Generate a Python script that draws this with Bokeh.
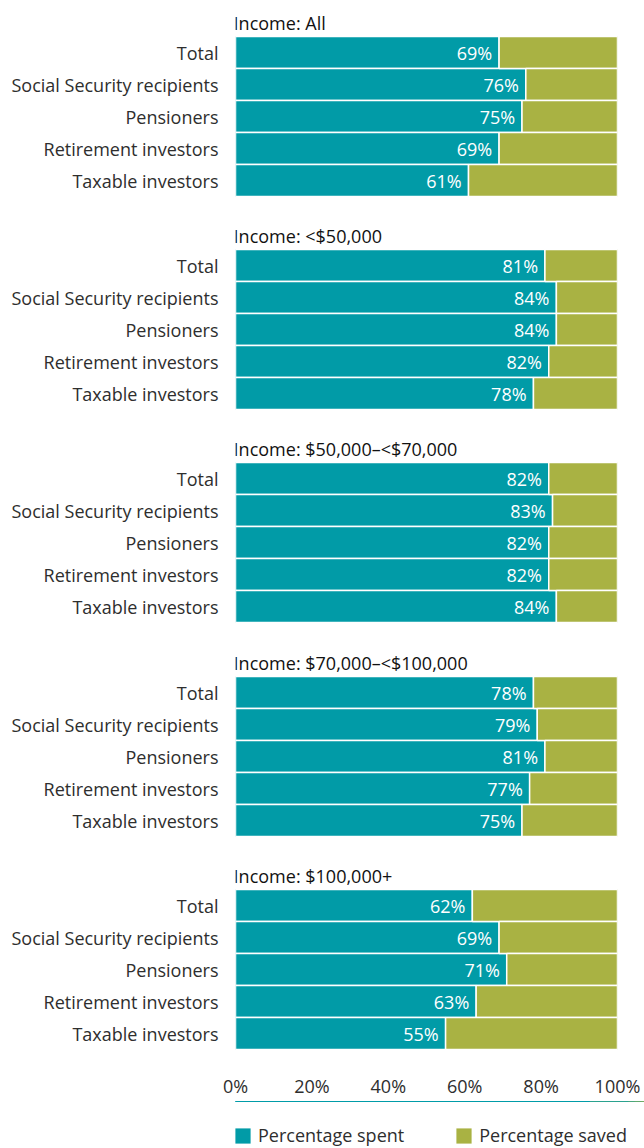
from bokeh.plotting import figure
from bokeh.layouts import column
from bokeh.models import Range1d, FixedTicker, Legend, LegendItem, ColumnDataSource
from bokeh.core.properties import value
from bokeh.embed import file_html
from bokeh.resources import INLINE

groups = ["Income: All", "Income: <$50,000", "Income: $50,000\u2013<$70,000",
          "Income: $70,000\u2013<$100,000", "Income: $100,000+"]
categories = ["Total", "Social Security recipients", "Pensioners",
              "Retirement investors", "Taxable investors"]
spent = [
    [69, 76, 75, 69, 61],
    [81, 84, 84, 82, 78],
    [82, 83, 82, 82, 84],
    [78, 79, 81, 77, 75],
    [62, 69, 71, 63, 55],
]
x_ticks = [0, 20, 40, 60, 80, 100]
series_names = ["Percentage spent", "Percentage saved"]

TEAL = "#019ba7"
OLIVE = "#a9b243"
FONT = "Open Sans"
FS = "18px"
LABEL_COLOR = "#2e2e2e"

# layout in frame pixels (y axis inverted)
GROUP_PITCH = 213.25
FIRST = 44
ROW = 32
TITLE_OFF = 30
FRAME_H = 1053
BOTTOM = 40
LEG_H = 1148 - 8 - FRAME_H - BOTTOM

ys, xs_sp, xs_sv, labs, cats = [], [], [], [], []
title_y = []
for g, vals in enumerate(spent):
    base = FIRST + g * GROUP_PITCH
    title_y.append(round(base - TITLE_OFF))
    for r, v in enumerate(vals):
        y = int(round(base + r * ROW))
        ys.append(y)
        xs_sp.append(v)
        xs_sv.append(100 - v)
        labs.append(f"{v}%")
        cats.append(categories[r])

src = ColumnDataSource(dict(y=ys, spent=xs_sp, saved=xs_sv, lab=labs,
                            lx=[v - 1.8 for v in xs_sp]))
tsrc = ColumnDataSource(dict(y=title_y, t=groups, x=[-0.5] * len(groups)))

p = figure(frame_width=382, frame_height=FRAME_H, output_backend="svg",
           toolbar_location=None, x_range=Range1d(0, 100),
           y_range=Range1d(FRAME_H, 0),
           min_border_left=235, min_border_right=27, min_border_top=8,
           min_border_bottom=BOTTOM)
p.outline_line_color = None
p.grid.grid_line_color = None
p.background_fill_color = "white"

p.hbar(y="y", left=0, right="spent", height=ROW, source=src,
       fill_color=TEAL, line_color="white", line_width=1.5)
p.hbar(y="y", left="spent", right=100, height=ROW, source=src,
       fill_color=OLIVE, line_color="white", line_width=1.5)

p.text(x="lx", y="y", text="lab", source=src, text_align="right",
       text_baseline="middle", text_color="white", text_font_size=FS,
       text_font=value(FONT))
p.text(x="x", y="y", text="t", source=tsrc, text_align="left",
       text_baseline="middle", text_color="#111111", text_font_size=FS,
       text_font=value(FONT))

yax = p.yaxis[0]
yax.ticker = FixedTicker(ticks=ys)
yax.major_label_overrides = {y: c for y, c in zip(ys, cats)}
yax.axis_line_color = None
yax.major_tick_line_color = None
yax.minor_tick_line_color = None
yax.major_tick_out = 0
yax.major_tick_in = 0
yax.minor_tick_out = 0
yax.major_label_standoff = 17
yax.major_label_text_font = FONT
yax.major_label_text_font_size = FS
yax.major_label_text_color = LABEL_COLOR

xax = p.xaxis[0]
xax.ticker = FixedTicker(ticks=x_ticks)
xax.major_label_overrides = {t: f"{t}%" for t in x_ticks}
xax.axis_line_color = None
xax.major_tick_line_color = None
xax.minor_tick_line_color = None
xax.major_tick_out = 0
xax.major_tick_in = 0
xax.minor_tick_out = 0
xax.major_label_standoff = 12
xax.major_label_text_font = FONT
xax.major_label_text_font_size = FS
xax.major_label_text_color = LABEL_COLOR

# legend strip: same bars, but its y range keeps them out of view
lg = figure(frame_width=644, frame_height=LEG_H, output_backend="svg",
            toolbar_location=None, x_range=Range1d(0, 100),
            y_range=Range1d(-1, 0),
            x_axis_type=None, y_axis_type=None,
            min_border_left=0, min_border_right=0, min_border_top=0,
            min_border_bottom=0)
lg.outline_line_color = None
lg.grid.grid_line_color = None
lr1 = lg.hbar(y="y", left=0, right="spent", height=ROW, source=src,
              fill_color=TEAL, line_color=None)
lr2 = lg.hbar(y="y", left="spent", right=100, height=ROW, source=src,
              fill_color=OLIVE, line_color=None)
legend = Legend(items=[LegendItem(label=series_names[0], renderers=[lr1]),
                       LegendItem(label=series_names[1], renderers=[lr2])],
                orientation="horizontal", location=(233, 1),
                border_line_color=None, background_fill_alpha=0,
                glyph_width=19, glyph_height=19, label_standoff=6,
                label_text_font=FONT, label_text_font_size=FS,
                label_text_color=LABEL_COLOR, spacing=50, padding=0,
                margin=0)
legend.label_height = 15
lg.add_layout(legend, "center")

layout = column(p, lg, spacing=0)
open("out.html", "w").write(file_html(layout, INLINE))
